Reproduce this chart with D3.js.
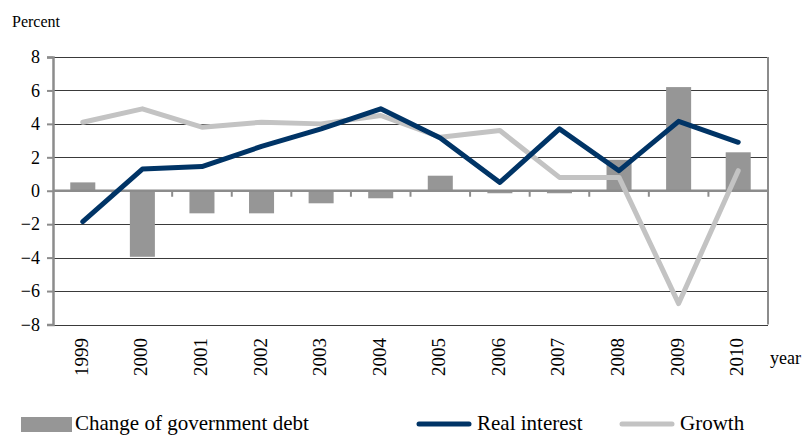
<!DOCTYPE html>
<html>
<head>
<meta charset="utf-8">
<script src="https://cdn.jsdelivr.net/npm/d3@7"></script>
<style>
  html, body { margin: 0; padding: 0; background: #fff; }
  svg { display: block; }
  svg text { font-family: "Liberation Serif", "Times New Roman", serif !important; fill: #000; }
</style>
</head>
<body>
<svg id="chart" width="803" height="435"></svg>
<script>
// Annual figures, percent
const years = ["1999","2000","2001","2002","2003","2004","2005","2006","2007","2008","2009","2010"];
const debtChange   = [0.5, -3.95, -1.35, -1.35, -0.75, -0.45, 0.9, -0.15, -0.15, 1.85, 6.2, 2.3];
const realInterest = [-1.85, 1.3, 1.45, 2.65, 3.7, 4.9, 3.15, 0.5, 3.7, 1.2, 4.15, 2.9];
const growth       = [4.1, 4.9, 3.8, 4.1, 4.0, 4.5, 3.2, 3.6, 0.8, 0.8, -6.75, 1.2];
const yTicks = [-8, -6, -4, -2, 0, 2, 4, 6, 8];

const svg = d3.select("#chart");
const plotL = 53, plotR = 768, plotT = 57, plotB = 324.5;

const x = d3.scaleBand().domain(years).range([plotL, plotR]).paddingInner(0).paddingOuter(0);
const y = d3.scaleLinear().domain([-8, 8]).range([plotB, plotT]);

// horizontal gridlines
svg.append("g").selectAll("line")
  .data(yTicks.filter(d => d !== 0))
  .join("line")
  .attr("x1", plotL).attr("x2", plotR)
  .attr("y1", d => Math.round(y(d)) + 0.5).attr("y2", d => Math.round(y(d)) + 0.5)
  .attr("stroke", "#3a3a3a").attr("stroke-width", 1);

// bars: change of government debt
const bw = x.bandwidth() * 0.42;
svg.append("g").selectAll("rect")
  .data(years.map((yr, i) => ({ yr, v: debtChange[i] })))
  .join("rect")
  .attr("x", d => x(d.yr) + (x.bandwidth() - bw) / 2)
  .attr("width", bw)
  .attr("y", d => y(Math.max(0, d.v)))
  .attr("height", d => Math.abs(y(d.v) - y(0)))
  .attr("fill", "#969696");

// right frame
svg.append("line")
  .attr("x1", plotR).attr("x2", plotR).attr("y1", plotT).attr("y2", plotB)
  .attr("stroke", "#8c8c8c").attr("stroke-width", 2);

// left value axis
const yAxis = d3.axisLeft(y).tickValues(yTicks).tickSize(6).tickPadding(7)
  .tickFormat(d => d < 0 ? "\u2212" + Math.abs(d) : String(d));
const ya = svg.append("g").attr("transform", `translate(${plotL},0)`).call(yAxis);
ya.attr("font-family", null).attr("font-size", null);
ya.select(".domain").attr("stroke", "#8c8c8c").attr("stroke-width", 2.5);
ya.selectAll(".tick line").attr("stroke", "#8c8c8c").attr("stroke-width", 2);
ya.selectAll(".tick text").style("font-size", "18px").attr("fill", "#000");

// zero line with category ticks
const zeroY = y(0);
svg.append("line")
  .attr("x1", plotL).attr("x2", plotR).attr("y1", zeroY).attr("y2", zeroY)
  .attr("stroke", "#8c8c8c").attr("stroke-width", 2.5);
svg.append("g").selectAll("line")
  .data(years.slice(1).concat(["__end"]))
  .join("line")
  .attr("x1", d => d === "__end" ? plotR : x(d))
  .attr("x2", d => d === "__end" ? plotR : x(d))
  .attr("y1", zeroY).attr("y2", zeroY + 6)
  .attr("stroke", "#8c8c8c").attr("stroke-width", 2);

// lines
const cx = yr => x(yr) + x.bandwidth() / 2;
const line = d3.line().x(d => cx(d.yr)).y(d => y(d.v));

svg.append("path")
  .datum(years.map((yr, i) => ({ yr, v: growth[i] })))
  .attr("d", line)
  .attr("fill", "none").attr("stroke", "#c3c3c3").attr("stroke-width", 5)
  .attr("stroke-linejoin", "round").attr("stroke-linecap", "round");

svg.append("path")
  .datum(years.map((yr, i) => ({ yr, v: realInterest[i] })))
  .attr("d", line)
  .attr("fill", "none").attr("stroke", "#003466").attr("stroke-width", 5)
  .attr("stroke-linejoin", "round").attr("stroke-linecap", "round");

// category labels, rotated
svg.append("g").selectAll("text")
  .data(years)
  .join("text")
  .attr("transform", d => `translate(${cx(d) + 5},338) rotate(-90)`)
  .attr("text-anchor", "end")
  .style("font-size", "19px")
  .text(d => d);

svg.append("text").attr("x", 770).attr("y", 364).style("font-size", "18px").text("year");
svg.append("text").attr("x", 12).attr("y", 27).style("font-size", "16px").text("Percent");

// legend
const lg = svg.append("g");
lg.append("rect").attr("x", 21).attr("y", 417).attr("width", 51).attr("height", 15).attr("fill", "#969696");
lg.append("text").attr("x", 75).attr("y", 430).style("font-size", "21px").text("Change of government debt");
lg.append("line").attr("x1", 419).attr("x2", 469).attr("y1", 424).attr("y2", 424)
  .attr("stroke", "#003466").attr("stroke-width", 5).attr("stroke-linecap", "round");
lg.append("text").attr("x", 477).attr("y", 430).style("font-size", "21px").text("Real interest");
lg.append("line").attr("x1", 622).attr("x2", 672).attr("y1", 424).attr("y2", 424)
  .attr("stroke", "#c3c3c3").attr("stroke-width", 5).attr("stroke-linecap", "round");
lg.append("text").attr("x", 680).attr("y", 430).style("font-size", "21px").text("Growth");
</script>
</body>
</html>
